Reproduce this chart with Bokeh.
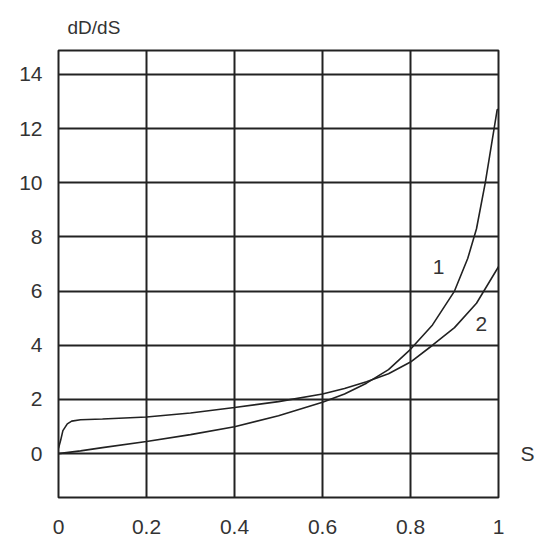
from bokeh.plotting import figure
from bokeh.models import Range1d, FixedTicker, Label, LinearAxis
from bokeh.embed import file_html
from bokeh.resources import INLINE

# Curve 1 (convex, steep near S=1)
s1 = [0.0, 0.05, 0.1, 0.2, 0.3, 0.4, 0.5, 0.6, 0.65, 0.7, 0.75, 0.8, 0.85, 0.9, 0.93, 0.95, 0.97, 0.98, 0.99, 0.997, 1.0]
d1 = [0.0, 0.1, 0.22, 0.45, 0.7, 0.99, 1.4, 1.9, 2.2, 2.6, 3.1, 3.85, 4.75, 6.0, 7.2, 8.3, 10.0, 11.0, 12.0, 12.7, 12.7]

# Curve 2 (jump at start, flatter)
s2 = [0.0, 0.005, 0.01, 0.02, 0.03, 0.05, 0.1, 0.2, 0.3, 0.4, 0.5, 0.6, 0.65, 0.7, 0.75, 0.8, 0.85, 0.9, 0.95, 1.0]
d2 = [0.2, 0.5, 0.85, 1.1, 1.2, 1.25, 1.28, 1.35, 1.5, 1.7, 1.92, 2.2, 2.4, 2.65, 2.95, 3.38, 4.0, 4.65, 5.55, 6.9]

x_ticks = [0, 0.2, 0.4, 0.6, 0.8, 1]
x_tick_labels = {0: "0", 0.2: "0.2", 0.4: "0.4", 0.6: "0.6", 0.8: "0.8", 1: "1"}
y_ticks = [0, 2, 4, 6, 8, 10, 12, 14]

FONT = "Liberation Sans"
INK = "#222222"
TXT = "#333333"

W, H = 537, 536
p = figure(width=W, height=H, output_backend="svg", toolbar_location=None,
           x_range=Range1d(0, 1), y_range=Range1d(-1.62, 14.88),
           min_border_left=58, min_border_right=38, min_border_top=50, min_border_bottom=37)

# y-axis title as plot title, placed top-left
p.title.text = "dD/dS"
p.title.align = "left"
p.title.offset = 9
p.title.text_font = FONT
p.title.text_font_size = "19px"
p.title.text_font_style = "normal"
p.title.text_color = TXT
p.title.standoff = 26

# x-axis name "S" at the right, on the level of 0
s_axis = LinearAxis(ticker=FixedTicker(ticks=[0]), major_label_overrides={0: "S"})
p.add_layout(s_axis, "right")

for ax in (p.xaxis[0], p.yaxis[0], s_axis):
    ax.axis_line_color = None
    ax.major_tick_line_color = None
    ax.minor_tick_line_color = None
    ax.major_label_text_font = FONT
    ax.major_label_text_font_size = "21px"
    ax.major_label_text_color = TXT

s_axis.major_tick_out = 0
s_axis.major_tick_in = 0
s_axis.major_label_standoff = 22

p.xaxis[0].ticker = FixedTicker(ticks=x_ticks)
p.xaxis[0].major_label_overrides = x_tick_labels
p.xaxis[0].major_label_standoff = 16
p.yaxis[0].ticker = FixedTicker(ticks=y_ticks)
p.yaxis[0].major_label_standoff = 10

p.xgrid[0].ticker = FixedTicker(ticks=x_ticks)
p.ygrid[0].ticker = FixedTicker(ticks=y_ticks)
for g in (p.xgrid[0], p.ygrid[0]):
    g.grid_line_color = INK
    g.grid_line_width = 2
    g.grid_line_alpha = 1.0

p.outline_line_color = INK
p.outline_line_width = 2
p.background_fill_color = "white"
p.border_fill_color = "white"

p.line(s1, d1, line_color=INK, line_width=1.6)
p.line(s2, d2, line_color=INK, line_width=1.6)

p.add_layout(Label(x=0.864, y=6.9, text="1", text_font=FONT, text_font_size="21px",
                   text_color=TXT, text_align="center", text_baseline="middle"))
p.add_layout(Label(x=0.961, y=4.8, text="2", text_font=FONT, text_font_size="21px",
                   text_color=TXT, text_align="center", text_baseline="middle"))

open("out.html", "w").write(file_html(p, INLINE))
